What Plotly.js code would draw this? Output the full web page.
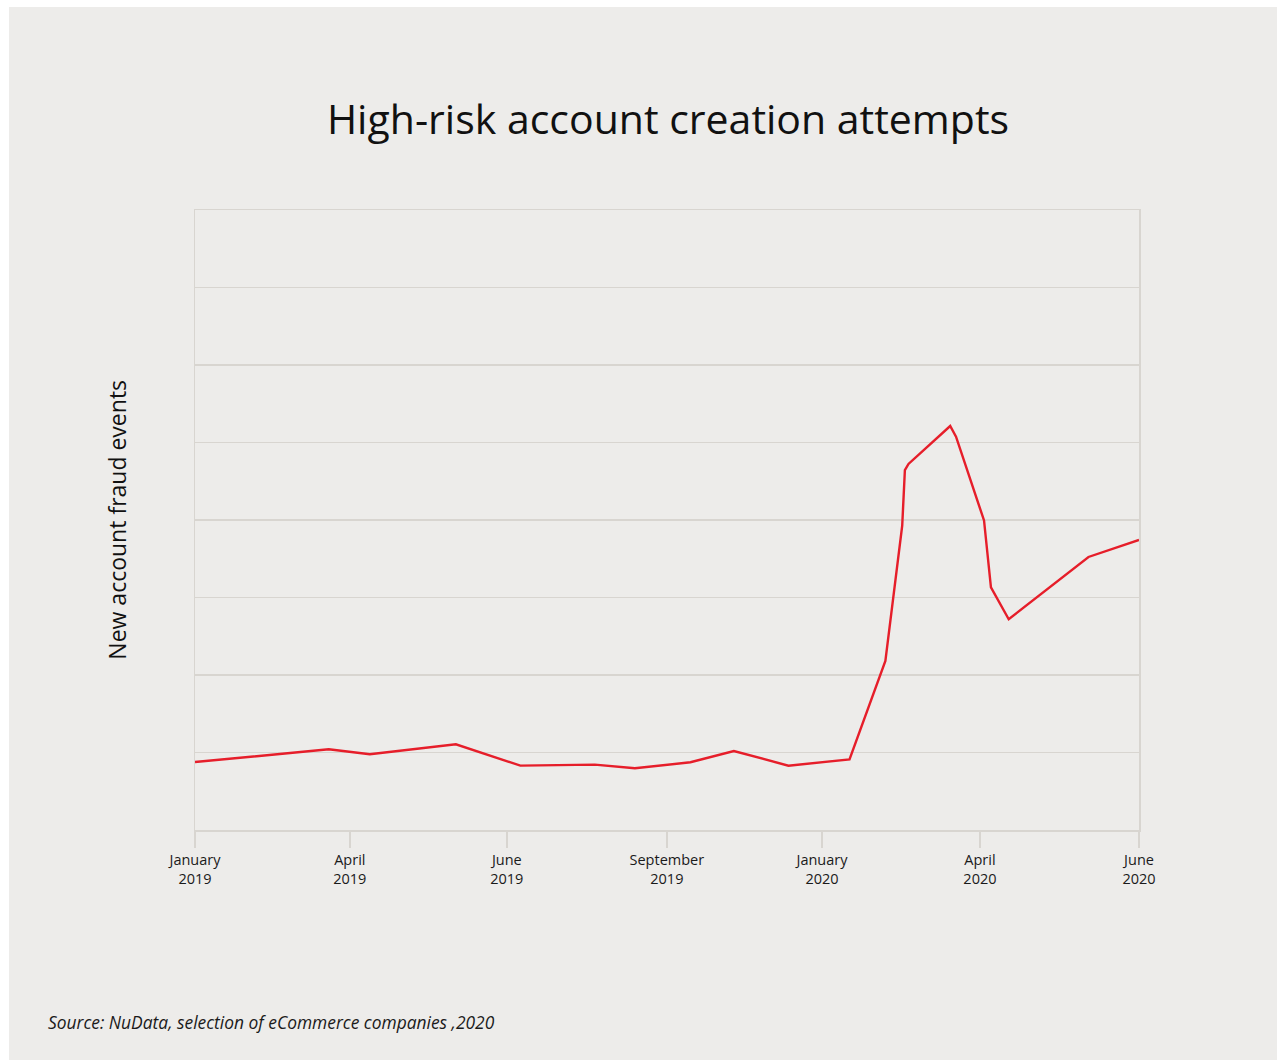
<!DOCTYPE html>
<html>
<head>
<meta charset="utf-8">
<script src="https://cdn.plot.ly/plotly-3.0.1.min.js"></script>
<style>
  html, body { margin: 0; padding: 0; background: #ffffff; }
  #frame { position: absolute; left: 9px; top: 7px; width: 1268px; height: 1053px; background: #edecea; }
  #chart { width: 1268px; height: 1053px; }
</style>
</head>
<body>
<div id="frame"><div id="chart"></div></div>
<script>
// Tick positions (evenly spaced month labels on an index scale)
const tickPositions = [0, 0.984, 1.982, 2.999, 3.985, 4.989, 6];
const tickLabels = ["January<br>2019", "April<br>2019", "June<br>2019", "September<br>2019", "January<br>2020", "April<br>2020", "June<br>2020"];

// Series: position along the index axis and value (arbitrary units, no labels shown)
const xPos = [0, 0.850, 1.111, 1.658, 2.068, 2.541, 2.796, 3.149, 3.425, 3.772, 4.160, 4.388, 4.495, 4.512, 4.535, 4.800, 4.837, 5.015, 5.059, 5.172, 5.679, 6.0];
const fraudEvents = [0.877, 1.041, 0.977, 1.106, 0.830, 0.843, 0.796, 0.874, 1.019, 0.830, 0.912, 2.181, 3.926, 4.645, 4.723, 5.213, 5.075, 3.994, 3.132, 2.719, 3.523, 3.742];

const titleText = "High-risk account creation attempts";
const yTitleText = "New account fraud events";
const sourceText = "Source: NuData, selection of eCommerce companies ,2020";

const fontFam = "'Open Sans', Lato, sans-serif";
const lineCol = "#d8d5d0";

const trace = {
  x: xPos, y: fraudEvents, type: "scatter", mode: "lines",
  line: { color: "#e61e2a", width: 2.4 },
  hoverinfo: "skip"
};

const layout = {
  width: 1268, height: 1053,
  paper_bgcolor: "#edecea", plot_bgcolor: "#edecea",
  margin: { l: 186, r: 138, t: 203, b: 230 },
  showlegend: false,
  font: { family: fontFam, color: "#1a1a1a" },
  title: {
    text: titleText, font: { family: fontFam, size: 41, color: "#111111" },
    xref: "container", yref: "container", x: 0.5197, y: 1 - 113 / 1053,
    xanchor: "center", yanchor: "middle"
  },
  xaxis: {
    range: [0, 6], tickvals: tickPositions, ticktext: tickLabels,
    showgrid: false, zeroline: false,
    showline: true, linecolor: lineCol, linewidth: 1.5, mirror: true,
    ticks: "outside", ticklen: 16, tickcolor: lineCol, tickwidth: 1.5,
    tickfont: { family: fontFam, size: 14.5, color: "#1a1a1a" },
    fixedrange: true
  },
  yaxis: {
    range: [0, 8], dtick: 1, tick0: 0,
    showticklabels: false, ticks: "",
    showgrid: true, gridcolor: lineCol, gridwidth: 1.2,
    zeroline: false,
    showline: true, linecolor: lineCol, linewidth: 1.5, mirror: true,
    fixedrange: true
  },
  annotations: [
    {
      text: yTitleText, xref: "paper", yref: "paper",
      x: (117 - 195.3) / 943.7, y: 0.5, xanchor: "center", yanchor: "middle",
      textangle: -90, showarrow: false,
      font: { family: fontFam, size: 23, color: "#111111" }
    },
    {
      text: "<i>" + sourceText + "</i>", xref: "paper", yref: "paper",
      x: (46 - 195.3) / 943.7, y: (830 - 1022) / 620, xanchor: "left", yanchor: "middle",
      showarrow: false,
      font: { family: fontFam, size: 17.4, color: "#1a1a1a" }
    }
  ]
};

Plotly.newPlot("chart", [trace], layout, { displayModeBar: false, staticPlot: true });
</script>
</body>
</html>
